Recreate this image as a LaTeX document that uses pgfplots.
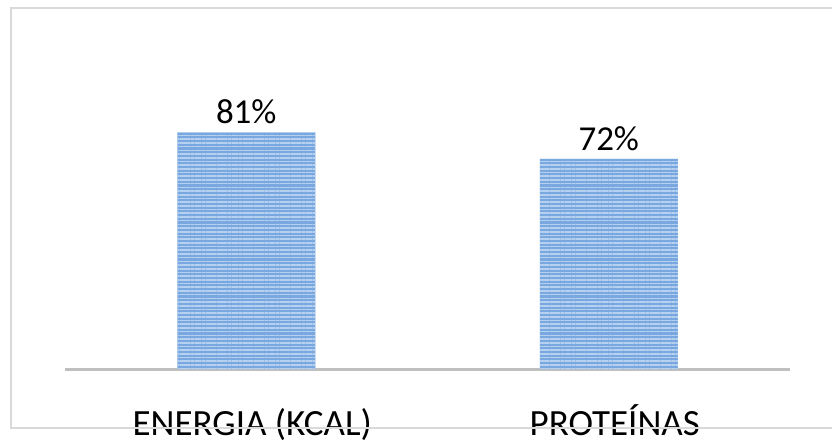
\documentclass[border=0pt]{standalone}
\usepackage{pgfplots}
\pgfplotsset{compat=1.18}
\usepackage{fontspec}
\setmainfont{Carlito}
\usetikzlibrary{patterns.meta}
\definecolor{barblue}{HTML}{79A8E0}
\definecolor{barlight}{HTML}{B6D1F0}
\definecolor{baseline}{HTML}{BFBFBF}
\definecolor{frame}{HTML}{D9D9D9}
\begin{document}
\begin{tikzpicture}
\useasboundingbox (0,0) rectangle (832pt,439pt);
\clip (0,0) rectangle (832pt,439pt);
\begin{axis}[
  at={(65pt,70pt)}, anchor=south west,
  scale only axis, width=725pt, height=292pt,
  xmin=-0.5, xmax=1.5, ymin=0, ymax=100,
  axis y line=none,
  axis x line=bottom,
  axis line style={-, draw=baseline, line width=3pt},
  xtick={0,1},
  xticklabels={ENERGIA (KCAL), PROTEÍNAS},
  major tick length=0pt,
  xticklabel style={anchor=base, yshift=-66pt, xshift=6pt, font=\fontsize{37}{40}\selectfont, text=black},
  ybar, bar width=138pt,
  /pgf/number format/assume math mode=true,
  nodes near coords={\pgfmathprintnumber{\pgfplotspointmeta}\%},
  nodes near coords style={anchor=base, yshift=8.5pt, font=\fontsize{35}{40}\selectfont, text=black},
]
\addplot[draw=none, fill=barblue,
  postaction={pattern={Lines[angle=0,distance=3.7pt,line width=1.6pt]}, pattern color=barlight}]
  coordinates {(0,81) (1,72)};
\end{axis}
\draw[frame, line width=2pt] (840pt,431pt) -- (11pt,431pt) -- (11pt,11pt) -- (840pt,11pt);
\end{tikzpicture}
\end{document}
